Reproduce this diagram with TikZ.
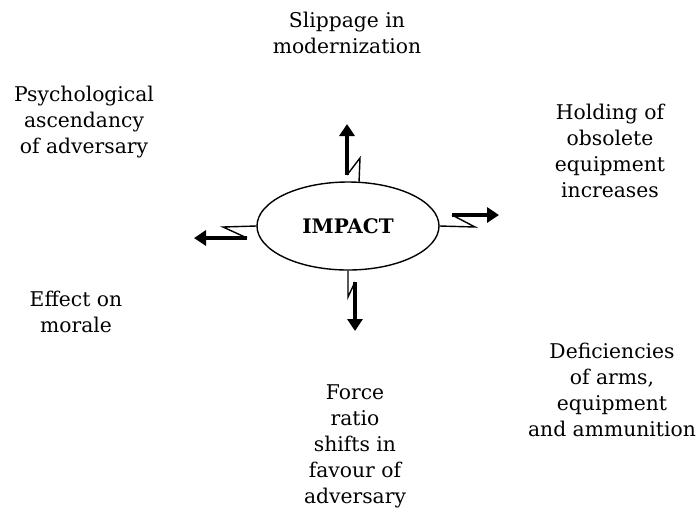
\documentclass[tikz,border=0pt]{standalone}
\usepackage{fontspec}
\setmainfont{DejaVu Serif}
\usetikzlibrary{arrows.meta,shapes.geometric}
\tikzset{
  lbl/.style={align=center,inner sep=0pt,font=\fontsize{20.3}{26}\selectfont},
  thinline/.style={line width=1.4pt,line join=miter},
  thickarrow/.style={line width=3.8pt,-{Triangle[length=12pt,width=15pt]}},
}
\begin{document}
\begin{tikzpicture}[x=1pt,y=-1pt]
\useasboundingbox (0,0) rectangle (700,515);
\node[ellipse,draw,line width=1.4pt,minimum width=182pt,minimum height=88pt,inner sep=0pt]
  (impact) at (348,226) {\fontsize{20}{24}\selectfont\bfseries IMPACT};

\node[lbl] (slip) at (347,33) {Slippage in\\modernization};
\node[lbl] (psy) at (84,122) {Psychological\\ascendancy\\of adversary};
\node[lbl] (hold) at (610,151) {Holding of\\obsolete\\equipment\\increases};
\node[lbl] (eff) at (76,312) {Effect on\\morale};
\node[lbl] (def) at (612,390) {Deficiencies\\of arms,\\equipment\\and ammunition};
\node[lbl] (force) at (355,446) {Force\\ratio\\shifts in\\favour of\\adversary};

% up
\coordinate (u1) at (360,158);
\coordinate (u2) at (347,175);
\coordinate (u3) at (347,124);
\draw[thinline] (impact.76) -- (u1) -- (u2);
\draw[thickarrow] (u2) -- (u3);
% down
\coordinate (d1) at (348,297);
\coordinate (d2) at (355,282);
\coordinate (d3) at (355,331);
\draw[thinline] (impact.south) -- (d1) -- (d2);
\draw[thickarrow] (d2) -- (d3);
% right
\coordinate (r1) at (475,227);
\coordinate (r2) at (452,215);
\coordinate (r3) at (499,215);
\draw[thinline] (impact.east) -- (r1) -- (r2);
\draw[thickarrow] (r2) -- (r3);
% left
\coordinate (l1) at (223,227);
\coordinate (l2) at (247,238);
\coordinate (l3) at (194,238);
\draw[thinline] (impact.west) -- (l1) -- (l2);
\draw[thickarrow] (l2) -- (l3);
\end{tikzpicture}
\end{document}
